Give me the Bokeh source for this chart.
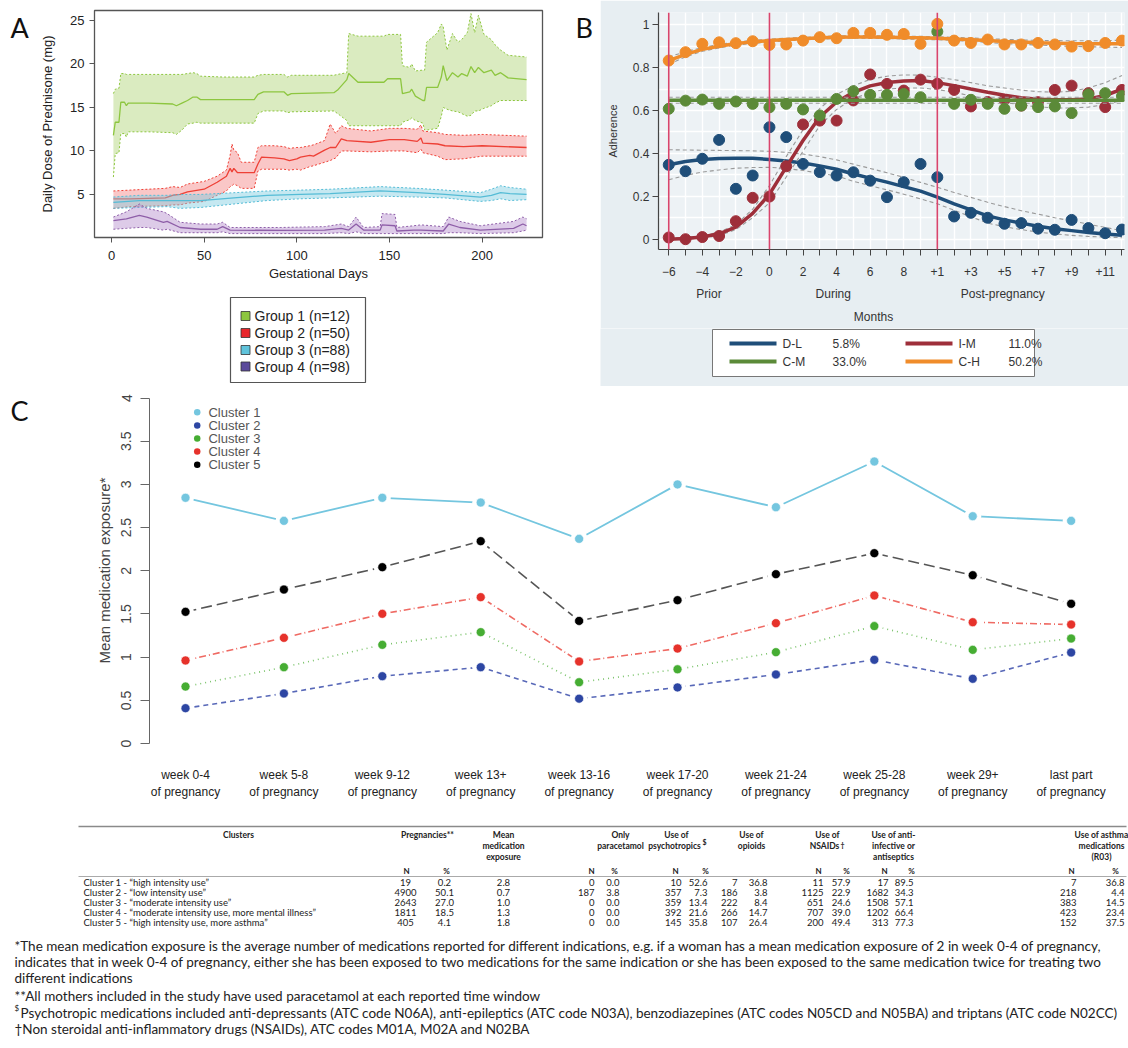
from bokeh.plotting import figure
from bokeh.models import Range1d, LinearAxis, FixedTicker, NumeralTickFormatter, Span
from bokeh.layouts import column, row
from bokeh.embed import file_html
from bokeh.resources import INLINE
from bokeh.core.properties import value

FONT = "Liberation Sans"
TFONT = "Lato"

# ---------------- Panel A data ----------------
a_xticks = [0, 50, 100, 150, 200]
a_yticks = [5, 10, 15, 20, 25]
group_names = ["Group 1 (n=12)", "Group 2 (n=50)", "Group 3 (n=88)", "Group 4 (n=98)"]

g1_day = [1, 2, 4, 5, 7, 8, 9, 20, 33, 35, 38, 41, 44, 46, 48, 60, 77, 79, 82, 93, 95, 97, 120, 122, 127, 128, 133,
          147, 149, 156, 157, 161, 162, 164, 168, 169, 170, 176, 178, 179, 181, 184, 187, 189, 192, 194, 196, 198,
          201, 205, 207, 210, 214, 224]
g1_mean = [11.8, 13.3, 13.3, 15.6, 15.6, 15.2, 15.5, 15.5, 15.4, 15.2, 15.5, 15.8, 16.2, 16.2, 15.9, 15.9, 15.9, 16.5,
           16.8, 16.8, 16.4, 16.6, 16.7, 17.0, 18.2, 18.9, 17.9, 17.9, 18.3, 18.3, 16.6, 16.8, 17.1, 16.3, 15.8, 15.8,
           17.3, 17.3, 18.5, 19.8, 18.1, 19.0, 18.5, 18.9, 18.6, 19.7, 19.0, 19.6, 19.0, 19.3, 18.7, 19.0, 18.4, 18.2]
g1_lo = [7.0, 9.7, 9.8, 12.0, 12.0, 11.6, 12.2, 12.2, 12.1, 11.9, 12.4, 13.1, 13.2, 13.3, 13.2, 13.2, 13.2, 14.3, 14.6,
         14.6, 14.4, 14.5, 14.6, 14.3, 13.5, 12.9, 12.9, 12.9, 12.9, 12.9, 13.3, 13.6, 13.8, 13.5, 13.2, 12.4, 12.4,
         12.6, 14.0, 15.0, 14.8, 14.6, 14.5, 14.3, 14.0, 14.1, 14.6, 14.6, 14.9, 15.2, 15.5, 15.8, 15.8, 15.8]
g1_hi = [16.6, 17.1, 17.2, 18.9, 18.9, 18.8, 18.8, 18.8, 18.8, 18.8, 18.8, 18.9, 19.0, 18.9, 18.6, 18.5, 18.5, 18.7,
         18.8, 18.8, 18.5, 18.7, 18.7, 18.8, 19.0, 23.5, 23.2, 23.2, 23.4, 23.4, 19.8, 19.6, 20.0, 19.2, 19.3, 19.3,
         22.5, 23.6, 24.6, 24.3, 21.6, 23.5, 22.5, 22.8, 23.6, 25.8, 23.6, 25.6, 23.4, 22.8, 22.2, 21.6, 21.0, 20.8]

g2_day = [1, 10, 29, 33, 37, 41, 50, 57, 62, 64, 65, 66, 68, 70, 77, 79, 81, 88, 93, 96, 100, 102, 107, 109, 115, 118,
          121, 124, 127, 140, 150, 158, 165, 167, 168, 176, 180, 190, 200, 224]
g2_mean = [4.5, 4.5, 4.6, 4.9, 5.0, 5.3, 5.6, 6.4, 7.1, 8.0, 7.6, 8.0, 7.5, 7.5, 7.5, 8.5, 9.3, 9.2, 9.1, 8.9, 9.1, 9.3,
           9.5, 9.4, 10.1, 10.4, 10.4, 11.4, 11.2, 11.0, 11.3, 11.3, 11.1, 11.5, 10.9, 10.8, 10.6, 10.5, 10.6, 10.4]
g2_lo = [3.4, 3.6, 3.7, 3.8, 3.8, 4.0, 4.2, 4.9, 5.4, 5.9, 6.0, 6.2, 6.0, 5.7, 5.7, 7.7, 7.9, 7.9, 7.9, 7.8, 7.9, 7.8,
         8.2, 8.3, 8.7, 8.9, 9.2, 10.0, 10.0, 9.9, 10.0, 10.0, 9.8, 10.2, 9.8, 9.4, 9.0, 9.1, 9.4, 9.4]
g2_hi = [5.4, 5.5, 5.7, 5.9, 5.8, 6.2, 6.5, 7.1, 7.8, 9.5, 10.8, 10.1, 9.8, 8.7, 8.7, 10.4, 10.6, 10.6, 10.5, 10.3,
         10.4, 10.4, 10.6, 10.7, 11.2, 13.1, 12.0, 12.9, 12.6, 12.3, 12.6, 12.6, 12.5, 13.0, 12.3, 12.1, 11.9, 11.8,
         11.9, 11.7]

g3_day = [1, 15, 30, 37, 48, 66, 84, 102, 118, 145, 165, 180, 199, 205, 210, 215, 224]
g3_mean = [4.1, 4.3, 4.3, 4.3, 4.3, 4.6, 4.9, 5.0, 5.1, 5.4, 5.2, 5.0, 4.7, 4.9, 5.2, 5.1, 5.0]
g3_lo = [3.4, 3.5, 3.6, 3.4, 3.5, 3.9, 4.3, 4.5, 4.6, 4.8, 4.7, 4.6, 4.2, 4.3, 4.5, 4.3, 4.4]
g3_hi = [4.7, 4.9, 4.9, 5.0, 5.0, 5.2, 5.4, 5.5, 5.6, 5.9, 5.7, 5.5, 5.2, 5.6, 6.0, 5.8, 5.6]

g4_day = [1, 8, 15, 19, 28, 30, 37, 48, 57, 60, 64, 91, 115, 124, 128, 132, 136, 145, 146, 153, 154, 163, 167, 179,
          182, 188, 199, 217, 222, 224]
g4_mean = [2.0, 2.2, 2.6, 2.4, 1.8, 1.9, 1.2, 1.0, 1.0, 1.3, 0.9, 0.86, 0.9, 1.1, 0.9, 1.6, 0.9, 0.9, 1.5, 1.4, 0.8,
           0.9, 0.9, 0.8, 1.6, 1.2, 0.9, 1.1, 1.6, 1.4]
g4_lo = [1.0, 1.1, 1.2, 1.2, 0.9, 1.0, 0.6, 0.6, 0.6, 0.7, 0.5, 0.5, 0.5, 0.6, 0.5, 0.7, 0.5, 0.5, 0.5, 0.5, 0.5, 0.5,
         0.5, 0.5, 0.6, 0.6, 0.5, 0.6, 0.8, 0.9]
g4_hi = [2.4, 3.0, 3.9, 3.4, 3.0, 2.8, 1.8, 1.6, 1.6, 1.8, 1.2, 1.2, 1.3, 1.6, 1.3, 2.4, 1.2, 1.3, 2.8, 2.7, 1.2, 1.4,
         1.5, 1.3, 2.4, 1.9, 1.4, 1.9, 2.4, 2.2]

# ---------------- Panel B data ----------------
months = list(range(-6, 22))
b_tick_labels = {-6: "\u22126", -5: "", -4: "\u22124", -3: "", -2: "\u22122", -1: "", 0: "0", 1: "", 2: "2", 3: "",
                 4: "4", 5: "", 6: "6", 7: "", 8: "8", 9: "", 10: "+1", 11: "", 12: "+3", 13: "", 14: "+5", 15: "",
                 16: "+7", 17: "", 18: "+9", 19: "", 20: "+11", 21: ""}
phase_pos = [-3.6, 3.8, 13.9]
phase_names = ["Prior", "During", "Post-pregnancy"]
months_title_pos = [6.2]
months_title = ["Months"]
pregnancy_marks = [-6, 0, 10]
traj_names = ["D-L", "I-M", "C-M", "C-H"]
traj_share = ["5.8%", "11.0%", "33.0%", "50.2%"]

DL_pts = [0.347, 0.317, 0.375, 0.463, 0.235, 0.297, 0.522, 0.476, 0.351, 0.313, 0.297, 0.312, 0.273, 0.196, 0.266,
          0.351, 0.289, 0.106, 0.123, 0.100, 0.072, 0.075, 0.049, 0.044, 0.090, 0.052, 0.028, 0.045]
DL_fit = [0.347, 0.362, 0.372, 0.376, 0.378, 0.377, 0.372, 0.365, 0.355, 0.342, 0.326, 0.304, 0.285, 0.266, 0.245,
          0.224, 0.196, 0.165, 0.137, 0.109, 0.09, 0.075, 0.06, 0.049, 0.04, 0.031, 0.024, 0.018]
DL_hi = [0.417, 0.416, 0.415, 0.414, 0.413, 0.412, 0.41, 0.405, 0.397, 0.385, 0.37, 0.35, 0.33, 0.31, 0.288, 0.265,
         0.242, 0.218, 0.195, 0.172, 0.152, 0.133, 0.117, 0.1, 0.085, 0.07, 0.055, 0.04]
DL_lo = [0.277, 0.298, 0.313, 0.323, 0.331, 0.334, 0.335, 0.33, 0.32, 0.308, 0.295, 0.27, 0.25, 0.23, 0.21, 0.188,
         0.165, 0.135, 0.105, 0.075, 0.058, 0.045, 0.033, 0.025, 0.018, 0.013, 0.01, 0.007]

IM_pts = [0.008, 0.0, 0.01, 0.015, 0.084, 0.193, 0.199, 0.34, 0.535, 0.553, 0.553, 0.647, 0.768, 0.724, 0.693, 0.744,
          0.725, 0.696, 0.619, 0.640, 0.650, 0.623, 0.639, 0.696, 0.716, 0.681, 0.616, 0.696]
IM_fit = [0.0, 0.003, 0.01, 0.025, 0.056, 0.12, 0.21, 0.336, 0.46, 0.57, 0.64, 0.685, 0.715, 0.731, 0.738, 0.74, 0.73,
          0.716, 0.70, 0.685, 0.671, 0.66, 0.653, 0.65, 0.65, 0.654, 0.67, 0.70]
IM_hi = [0.005, 0.008, 0.016, 0.033, 0.068, 0.14, 0.25, 0.385, 0.51, 0.61, 0.675, 0.715, 0.745, 0.76, 0.766, 0.765,
         0.755, 0.744, 0.73, 0.715, 0.705, 0.695, 0.688, 0.685, 0.69, 0.705, 0.73, 0.763]
IM_lo = [0.0, 0.0, 0.005, 0.017, 0.045, 0.1, 0.17, 0.29, 0.41, 0.53, 0.605, 0.655, 0.685, 0.70, 0.705, 0.705, 0.698,
         0.685, 0.668, 0.652, 0.639, 0.625, 0.617, 0.612, 0.612, 0.616, 0.628, 0.647]

CM_pts = [0.608, 0.646, 0.651, 0.631, 0.642, 0.631, 0.615, 0.631, 0.605, 0.577, 0.654, 0.690, 0.673, 0.673, 0.677,
          0.662, 0.968, 0.631, 0.650, 0.631, 0.608, 0.623, 0.616, 0.619, 0.588, 0.675, 0.681, 0.667]
CM_fit = [0.648, 0.648, 0.648, 0.648, 0.648, 0.648, 0.648, 0.648, 0.648, 0.648, 0.648, 0.648, 0.648, 0.648, 0.648,
          0.648, 0.648, 0.648, 0.648, 0.648, 0.648, 0.648, 0.648, 0.648, 0.648, 0.648, 0.648, 0.648]
CM_hi = [0.662, 0.662, 0.662, 0.662, 0.662, 0.662, 0.662, 0.662, 0.662, 0.662, 0.662, 0.662, 0.662, 0.662, 0.662,
         0.662, 0.662, 0.662, 0.662, 0.662, 0.662, 0.662, 0.662, 0.662, 0.662, 0.662, 0.662, 0.662]
CM_lo = [0.634, 0.634, 0.634, 0.634, 0.634, 0.634, 0.634, 0.634, 0.634, 0.634, 0.634, 0.634, 0.634, 0.634, 0.634,
         0.634, 0.634, 0.634, 0.634, 0.634, 0.634, 0.634, 0.634, 0.634, 0.634, 0.634, 0.634, 0.634]

CH_pts = [0.833, 0.872, 0.911, 0.918, 0.914, 0.923, 0.906, 0.908, 0.926, 0.942, 0.937, 0.962, 0.962, 0.953, 0.957,
          0.911, 1.004, 0.926, 0.915, 0.931, 0.908, 0.908, 0.915, 0.908, 0.898, 0.900, 0.915, 0.926]
CH_fit = [0.833, 0.862, 0.885, 0.9, 0.912, 0.92, 0.926, 0.931, 0.935, 0.939, 0.942, 0.943, 0.943, 0.942, 0.94, 0.939,
          0.937, 0.934, 0.93, 0.926, 0.922, 0.919, 0.916, 0.914, 0.912, 0.911, 0.911, 0.911]
CH_hi = [0.85, 0.874, 0.894, 0.908, 0.919, 0.927, 0.933, 0.937, 0.941, 0.945, 0.948, 0.949, 0.949, 0.948, 0.947,
         0.946, 0.944, 0.941, 0.938, 0.935, 0.932, 0.929, 0.927, 0.926, 0.925, 0.925, 0.926, 0.928]
CH_lo = [0.816, 0.85, 0.876, 0.892, 0.905, 0.913, 0.919, 0.925, 0.929, 0.933, 0.936, 0.937, 0.937, 0.936, 0.933,
         0.932, 0.93, 0.927, 0.922, 0.917, 0.912, 0.909, 0.905, 0.902, 0.899, 0.897, 0.896, 0.894]

# ---------------- Panel C data ----------------
week_line1 = ["week 0-4", "week 5-8", "week 9-12", "week 13+", "week 13-16", "week 17-20", "week 21-24",
              "week 25-28", "week 29+", "last part"]
week_line2 = ["of pregnancy", "of pregnancy", "of pregnancy", "of pregnancy", "of pregnancy", "of pregnancy",
              "of pregnancy", "of pregnancy", "of pregnancy", "of pregnancy"]
cluster_names = ["Cluster 1", "Cluster 2", "Cluster 3", "Cluster 4", "Cluster 5"]
c1 = [2.845, 2.578, 2.845, 2.79, 2.37, 3.0, 2.736, 3.265, 2.632, 2.578]
c2 = [0.41, 0.58, 0.78, 0.884, 0.52, 0.65, 0.80, 0.97, 0.75, 1.054]
c3 = [0.66, 0.884, 1.143, 1.29, 0.71, 0.86, 1.058, 1.36, 1.085, 1.216]
c4 = [0.962, 1.224, 1.502, 1.695, 0.95, 1.10, 1.394, 1.714, 1.405, 1.378]
c5 = [1.525, 1.783, 2.042, 2.343, 1.42, 1.66, 1.961, 2.204, 1.949, 1.618]
c_yticks = [0, 0.5, 1, 1.5, 2, 2.5, 3, 3.5, 4]

# ---------------- Table data ----------------
tbl_clusters = ["Cluster 1 - \u201chigh intensity use\u201d",
                "Cluster 2 - \u201clow intensity use\u201d",
                "Cluster 3 - \u201cmoderate intensity use\u201d",
                "Cluster 4 - \u201cmoderate intensity use, more mental illness\u201d",
                "Cluster 5 - \u201chigh intensity use, more asthma\u201d"]
preg_n = [19, 4900, 2643, 1811, 405]
preg_pct = [0.2, 50.1, 27.0, 18.5, 4.1]
mean_exp = [2.8, 0.7, 1.0, 1.3, 1.8]
para_n = [0, 187, 0, 0, 0]
para_pct = [0.0, 3.8, 0.0, 0.0, 0.0]
psy_n = [10, 357, 359, 392, 145]
psy_pct = [52.6, 7.3, 13.4, 21.6, 35.8]
opi_n = [7, 186, 222, 266, 107]
opi_pct = [36.8, 3.8, 8.4, 14.7, 26.4]
nsaid_n = [11, 1125, 651, 707, 200]
nsaid_pct = [57.9, 22.9, 24.6, 39.0, 49.4]
anti_n = [17, 1682, 1508, 1202, 313]
anti_pct = [89.5, 34.3, 57.1, 66.4, 77.3]
asth_n = [7, 218, 383, 423, 152]
asth_pct = [36.8, 4.4, 14.5, 23.4, 37.5]

footnotes = [
    "*The mean medication exposure is the average number of medications reported for different indications, e.g. if a woman has a mean medication exposure of 2 in week 0-4 of pregnancy,",
    "indicates that in week 0-4 of pregnancy, either she has been exposed to two medications for the same indication or she has been exposed to the same medication twice for treating two",
    "different indications",
    "**All mothers included in the study have used paracetamol at each reported time window",
    "Psychotropic medications included anti-depressants (ATC code N06A), anti-epileptics (ATC code N03A), benzodiazepines (ATC codes N05CD and N05BA) and triptans (ATC code N02CC)",
    "\u2020Non steroidal anti-inflammatory drugs (NSAIDs), ATC codes M01A, M02A and N02BA",
]

# =====================================================================
COMMON = dict(output_backend="svg", toolbar_location=None, frame_align=False)


def style_axis(ax, size="13px", color="#222222", font=FONT):
    ax.major_label_text_font = font
    ax.major_label_text_font_size = size
    ax.major_label_text_color = color
    ax.axis_label_text_font = font
    ax.axis_label_text_font_style = "normal"
    ax.axis_label_text_color = color
    ax.minor_tick_line_color = None


def canvas(w, h, x0, y0, bg="white"):
    p = figure(width=w, height=h, x_range=Range1d(x0, x0 + w), y_range=Range1d(y0 + h, y0),
               x_axis_type=None, y_axis_type=None, min_border=0, outline_line_color=None,
               background_fill_color=bg, border_fill_color=bg, **COMMON)
    p.grid.visible = False
    return p


def letter(p, x, y, t):
    p.text(x=[x], y=[y], text=[t], text_font=value(TFONT), text_font_size="27px", text_baseline="top",
           text_color="#111111")


# ---------------- Figure A ----------------
pLetA = canvas(36, 290, 0, 0)
letter(pLetA, 10, 10, "A")
pLetB = canvas(30, 290, 570, 0)
letter(pLetB, 575, 10, "B")

pA = figure(width=534, height=290, x_range=Range1d(-9.2, 232.6), y_range=Range1d(0.05, 26.15),
            min_border_left=58, min_border_right=28, min_border_top=10, min_border_bottom=53, **COMMON)
pA.grid.visible = False
pA.outline_line_color = "#555555"
pA.outline_line_width = 1.3
pA.xaxis.ticker = FixedTicker(ticks=a_xticks)
pA.yaxis.ticker = FixedTicker(ticks=a_yticks)
for ax in pA.axis:
    style_axis(ax)
    ax.axis_line_color = None
    ax.major_tick_line_color = "#555555"
    ax.major_tick_out = 5
    ax.major_tick_in = 0
    ax.axis_label_text_font_size = "13px"
pA.xaxis.major_label_standoff = 8
pA.xaxis.axis_label = "Gestational Days"
pA.xaxis.axis_label_standoff = 3
pA.yaxis.major_label_standoff = 5
pA.yaxis.axis_label = "Daily Dose of Prednisone (mg)"
pA.yaxis.axis_label_standoff = 12

groupsA = [
    (g1_day, g1_mean, g1_lo, g1_hi, "#8dc63f", "#a8d06a", 0.42),
    (g2_day, g2_mean, g2_lo, g2_hi, "#ee4036", "#f26d6d", 0.38),
    (g3_day, g3_mean, g3_lo, g3_hi, "#55bcd6", "#7fcde0", 0.45),
    (g4_day, g4_mean, g4_lo, g4_hi, "#8e5ea8", "#b48ccb", 0.45),
]
for d, m, lo, hi, lc, fc, fa in groupsA:
    pA.varea(x=d, y1=lo, y2=hi, fill_color=fc, fill_alpha=fa)
    pA.line(d, lo, line_color=lc, line_dash="2 2", line_width=1)
    pA.line(d, hi, line_color=lc, line_dash="2 2", line_width=1)
    pA.line(d, m, line_color=lc, line_width=1.3)

# legend for A
pAL = canvas(600, 96, 0, 290)
pAL.quad(left=[230], right=[365], top=[297], bottom=[382], fill_color="white", line_color="#555555", line_width=1.2)
leg_y = [315.5, 332.5, 349.5, 366.0]
leg_cols = ["#8dc63f", "#e8262b", "#5fc3db", "#5b4a9b"]
pAL.rect(x=[245] * 4, y=leg_y, width=9, height=9, fill_color=leg_cols, line_color="#333333", line_width=0.8)
pAL.text(x=[254] * 4, y=leg_y, text=group_names, text_font=value(FONT), text_font_size="14px",
         text_baseline="middle", text_color="#222222")

# ---------------- Figure B ----------------
BG = "#e7eef2"
pB = figure(width=528, height=328, x_range=Range1d(-6.61, 21.15), y_range=Range1d(-0.048, 1.057),
            min_border_left=58, min_border_right=4, min_border_top=12, min_border_bottom=79,
            background_fill_color="#edf2f5", border_fill_color=BG, **COMMON)
pB.outline_line_color = None
pB.xgrid.ticker = FixedTicker(ticks=months)
pB.ygrid.ticker = FixedTicker(ticks=[0, 0.1, 0.2, 0.3, 0.4, 0.5, 0.6, 0.7, 0.8, 0.9, 1.0])
pB.grid.grid_line_color = "white"
pB.grid.grid_line_width = 1.4
pB.xaxis.ticker = FixedTicker(ticks=months)
pB.xaxis.major_label_overrides = b_tick_labels
pB.yaxis.ticker = FixedTicker(ticks=[0, 0.2, 0.4, 0.6, 0.8, 1.0])
pB.yaxis.formatter = NumeralTickFormatter(format="0.[0]")
for ax in pB.axis:
    style_axis(ax, size="12px", color="#333333")
    ax.axis_line_color = "#444444"
    ax.axis_line_width = 1.2
    ax.major_tick_line_color = "#444444"
    ax.major_tick_out = 6
    ax.major_tick_in = 0
pB.xaxis.major_label_standoff = 11
pB.yaxis.major_label_standoff = 3
pB.yaxis.axis_label = "Adherence"
pB.yaxis.axis_label_text_font_size = "11px"
pB.yaxis.axis_label_standoff = 11

for pos, names, standoff in [(phase_pos, phase_names, 8), (months_title_pos, months_title, 6)]:
    ax2 = LinearAxis(ticker=FixedTicker(ticks=pos), major_label_overrides=dict(zip(pos, names)),
                     axis_line_color=None, major_tick_line_color=None)
    style_axis(ax2, size="12px", color="#333333")
    ax2.major_tick_out = 0
    ax2.major_tick_in = 0
    ax2.major_label_standoff = standoff
    pB.add_layout(ax2, "below")

for m in pregnancy_marks:
    pB.add_layout(Span(location=m, dimension="height", line_color="#d9456c", line_width=1.6))

seriesB = [
    (DL_pts, DL_fit, DL_lo, DL_hi, "#1f4e79"),
    (IM_pts, IM_fit, IM_lo, IM_hi, "#9e2f3a"),
    (CM_pts, CM_fit, CM_lo, CM_hi, "#5b8a38"),
    (CH_pts, CH_fit, CH_lo, CH_hi, "#f08c2a"),
]
for pts, fit, lo, hi, col in seriesB:
    pB.line(months, lo, line_color="#9a9a9a", line_dash="4 3", line_width=1.1)
    pB.line(months, hi, line_color="#9a9a9a", line_dash="4 3", line_width=1.1)
    pB.scatter(months, pts, size=11, fill_color=col, line_color=col)
    pB.line(months, fit, line_color=col, line_width=3.5)

# legend for B
pBL = canvas(528, 58, 600, 328, bg=BG)
pBL.quad(left=[712], right=[1034], top=[329], bottom=[376], fill_color="white", line_color="#777777", line_width=1)
lx0 = [729, 905, 729, 905]
ly = [343, 343, 361, 361]
lcols = ["#1f4e79", "#9e2f3a", "#5b8a38", "#f08c2a"]
pBL.segment(x0=lx0, y0=ly, x1=[x + 47 for x in lx0], y1=ly, line_color=lcols, line_width=4)
pBL.text(x=[x + 53 for x in lx0], y=ly, text=traj_names, text_font=value(FONT), text_font_size="12px",
         text_baseline="middle", text_color="#333333")
pBL.text(x=[x + 103 for x in lx0], y=ly, text=traj_share, text_font=value(FONT), text_font_size="12px",
         text_baseline="middle", text_color="#333333")

# ---------------- Figure C ----------------
pLetC = canvas(40, 434, 0, 386)
letter(pLetC, 10, 393, "C")

pC = figure(width=1088, height=434, x_range=Range1d(-0.366, 9.583), y_range=Range1d(-0.08, 4.087),
            x_axis_type=None, min_border_left=109, min_border_right=0, min_border_top=4, min_border_bottom=70,
            **COMMON)
pC.grid.visible = False
pC.outline_line_color = None
yax = pC.yaxis[0]
yax.bounds = (0, 4)
yax.ticker = FixedTicker(ticks=c_yticks)
yax.formatter = NumeralTickFormatter(format="0.[0]")
style_axis(yax, size="14px", color="#444444")
yax.major_label_orientation = "vertical"
yax.axis_line_color = "#666666"
yax.major_tick_line_color = "#666666"
yax.major_tick_out = 9
yax.major_tick_in = 0
yax.major_label_standoff = 9
yax.axis_label = "Mean medication exposure*"
yax.axis_label_text_font_size = "15px"
yax.axis_label_standoff = 6

wk = list(range(len(week_line1)))
for labels, standoff in [(week_line1, 17), (week_line2, 0)]:
    xa = LinearAxis(ticker=FixedTicker(ticks=wk), major_label_overrides=dict(zip(wk, labels)),
                    axis_line_color=None, major_tick_line_color=None)
    style_axis(xa, size="12px", color="#222222")
    xa.major_tick_out = 0
    xa.major_tick_in = 0
    xa.major_label_standoff = standoff
    pC.add_layout(xa, "below")

seriesC = [
    (c1, "#74c6df", "#74c6df", None),
    (c2, "#2d46a3", "#5868b8", "5 4"),
    (c3, "#46ad33", "#7cc46c", "1 4"),
    (c4, "#e6322b", "#ef6a63", "7 3 1 3"),
    (c5, "#000000", "#555555", "11 5"),
]
for vals, pc, lc, dash in seriesC:
    if dash:
        pC.line(wk, vals, line_color=lc, line_width=1.6, line_dash=dash)
    else:
        pC.line(wk, vals, line_color=lc, line_width=1.8)
    pC.scatter(wk, vals, size=17, fill_color="white", line_color=None)
    pC.scatter(wk, vals, size=9, fill_color=pc, line_color="white", line_width=0.6)

legC_y = [3.836, 3.682, 3.531, 3.380, 3.227]
pC.scatter([0.119] * 5, legC_y, size=6.5, fill_color=[s[1] for s in seriesC], line_color=None)
pC.text([0.233] * 5, legC_y, text=cluster_names, text_font=value(FONT), text_font_size="13px",
        text_baseline="middle", text_color="#555555")

# ---------------- Table + footnotes ----------------
pT = canvas(1128, 226, 0, 820)


def txt(xs, ys, texts, size="9.5px", align="left", bold=False, color="#222222", font=TFONT):
    pT.text(x=xs, y=ys, text=texts, text_font=value(font), text_font_size=size, text_align=align,
            text_baseline="middle", text_color=color, text_font_style="bold" if bold else "normal")


pT.segment(x0=[78], y0=[826], x1=[1126], y1=[826], line_color="#8a8a8a", line_width=1.6)
pT.segment(x0=[78], y0=[876], x1=[1126], y1=[876], line_color="#a0a0a0", line_width=0.9)

HS = "8.5px"
h1, h2, h3, hn = 834, 845, 856, 870
txt([238, 427, 503, 620, 676, 751, 827, 893, 1101], [h1] * 9,
    ["Clusters", "Pregnancies**", "Mean", "Only", "Use of", "Use of", "Use of", "Use of anti-", "Use of asthma"],
    align="center", bold=True, size=HS)
txt([503, 620, 674, 751, 824, 893, 1101], [h2] * 7,
    ["medication", "paracetamol", "psychotropics", "opioids", "NSAIDs", "infective or", "medications"],
    align="center", bold=True, size=HS)
txt([702, 840], [h2 - 4, h2 - 1], ["$", "\u2020"], size="7px", bold=True)
txt([503, 893, 1101], [h3] * 3, ["exposure", "antiseptics", "(R03)"], align="center", bold=True, size=HS)
txt([406, 446, 591, 614, 675, 705, 818, 846, 884, 911, 1071, 1115], [hn] * 12,
    ["N", "%", "N", "%", "N", "%", "N", "%", "N", "%", "N", "%"], align="center", bold=True, size="8px")

row_y = [882, 892, 902, 912, 922]
txt([83] * 5, row_y, tbl_clusters)
txt([405] * 5, row_y, [str(v) for v in preg_n], align="center")
txt([444] * 5, row_y, [f"{v:.1f}" for v in preg_pct], align="center")
txt([503] * 5, row_y, [f"{v:.1f}" for v in mean_exp], align="center")
numcols = [(para_n, para_pct, 594, 619), (psy_n, psy_pct, 681, 707), (opi_n, opi_pct, 737, 767),
           (nsaid_n, nsaid_pct, 823, 850), (anti_n, anti_pct, 888, 913), (asth_n, asth_pct, 1076, 1124)]
for ns, ps, xn, xp in numcols:
    txt([xn] * 5, row_y, [str(v) for v in ns], align="right")
    txt([xp] * 5, row_y, [f"{v:.1f}" for v in ps], align="right")

fn_y = [945, 961, 977, 995, 1012, 1028]
fn_x = [14, 14, 14, 14, 20, 14]
txt(fn_x, fn_y, footnotes, size="13.5px", color="#222222")
txt([14], [1007], ["$"], size="8px")

layout = column(
    row(column(row(pLetA, pA, pLetB), pAL), column(pB, pBL)),
    row(pLetC, pC),
    pT,
)
open("out.html", "w").write(file_html(layout, INLINE))
